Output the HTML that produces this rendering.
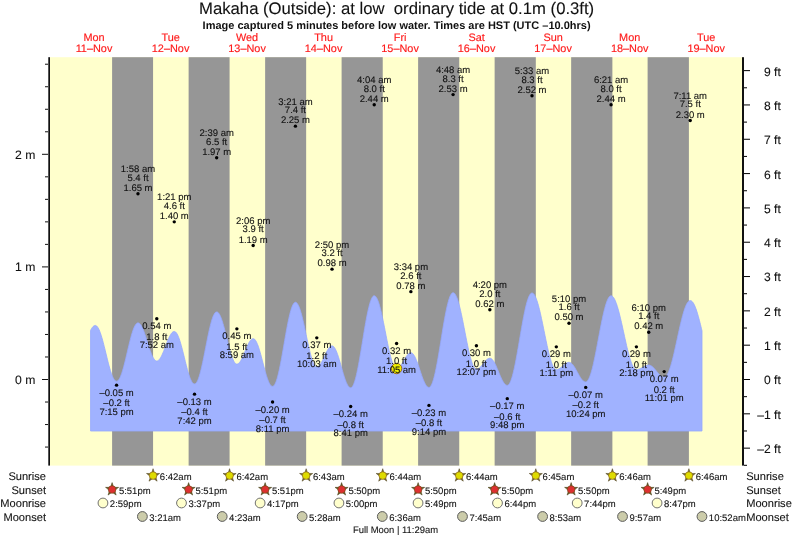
<!DOCTYPE html>
<html><head><meta charset="utf-8"><style>
html,body{margin:0;padding:0;background:#fff;width:793px;height:539px;overflow:hidden}
svg{display:block;will-change:transform;filter:blur(0.35px)}
text{font-family:"Liberation Sans",sans-serif;text-rendering:geometricPrecision;fill:#111;stroke:#111;stroke-width:0.1px}
</style></head><body>
<svg width="793" height="539" viewBox="0 0 793 539">
<rect x="50" y="57.2" width="692" height="408.40000000000003" fill="#ffffcc"/>
<rect x="112.10" y="57.2" width="40.97" height="408.40000000000003" fill="#969696"/>
<rect x="188.62" y="57.2" width="40.97" height="408.40000000000003" fill="#969696"/>
<rect x="265.13" y="57.2" width="41.02" height="408.40000000000003" fill="#969696"/>
<rect x="341.60" y="57.2" width="41.13" height="408.40000000000003" fill="#969696"/>
<rect x="418.11" y="57.2" width="41.13" height="408.40000000000003" fill="#969696"/>
<rect x="494.63" y="57.2" width="41.18" height="408.40000000000003" fill="#969696"/>
<rect x="571.15" y="57.2" width="41.23" height="408.40000000000003" fill="#969696"/>
<rect x="647.61" y="57.2" width="41.29" height="408.40000000000003" fill="#969696"/>
<path d="M90.55,431.00 L90.55,330.36 L91.06,329.41 L91.57,328.54 L92.08,327.77 L92.59,327.11 L93.10,326.55 L93.61,326.10 L94.12,325.77 L94.63,325.55 L95.14,325.45 L95.65,325.48 L96.15,325.67 L96.66,326.01 L97.17,326.51 L97.68,327.16 L98.19,327.96 L98.70,328.90 L99.21,329.98 L99.72,331.19 L100.23,332.53 L100.74,333.99 L101.25,335.55 L101.76,337.22 L102.27,338.97 L102.78,340.81 L103.29,342.72 L103.80,344.69 L104.31,346.71 L104.82,348.77 L105.33,350.85 L105.84,352.94 L106.35,355.04 L106.86,357.13 L107.36,359.20 L107.87,361.23 L108.38,363.22 L108.89,365.15 L109.40,367.02 L109.91,368.81 L110.42,370.51 L110.93,372.11 L111.44,373.61 L111.95,374.99 L112.46,376.25 L112.97,377.38 L113.48,378.37 L113.99,379.22 L114.50,379.93 L115.01,380.48 L115.52,380.88 L116.03,381.13 L116.54,381.22 L117.05,381.14 L117.56,380.91 L118.07,380.51 L118.57,379.95 L119.08,379.24 L119.59,378.38 L120.10,377.37 L120.61,376.22 L121.12,374.93 L121.63,373.51 L122.14,371.98 L122.65,370.33 L123.16,368.59 L123.67,366.74 L124.18,364.82 L124.69,362.83 L125.20,360.77 L125.71,358.67 L126.22,356.53 L126.73,354.36 L127.24,352.19 L127.75,350.01 L128.26,347.84 L128.77,345.70 L129.28,343.59 L129.78,341.53 L130.29,339.52 L130.80,337.59 L131.31,335.74 L131.82,333.98 L132.33,332.32 L132.84,330.77 L133.35,329.34 L133.86,328.03 L134.37,326.86 L134.88,325.83 L135.39,324.95 L135.90,324.22 L136.41,323.64 L136.92,323.22 L137.43,322.97 L137.94,322.87 L138.45,322.93 L138.96,323.12 L139.47,323.46 L139.98,323.92 L140.49,324.52 L140.99,325.24 L141.50,326.08 L142.01,327.04 L142.52,328.10 L143.03,329.27 L143.54,330.52 L144.05,331.86 L144.56,333.27 L145.07,334.74 L145.58,336.27 L146.09,337.84 L146.60,339.43 L147.11,341.05 L147.62,342.67 L148.13,344.28 L148.64,345.88 L149.15,347.45 L149.66,348.98 L150.17,350.46 L150.68,351.87 L151.19,353.22 L151.69,354.48 L152.20,355.65 L152.71,356.72 L153.22,357.69 L153.73,358.54 L154.24,359.27 L154.75,359.88 L155.26,360.35 L155.77,360.69 L156.28,360.90 L156.79,360.97 L157.30,360.90 L157.81,360.72 L158.32,360.41 L158.83,359.99 L159.34,359.44 L159.85,358.79 L160.36,358.03 L160.87,357.18 L161.38,356.23 L161.89,355.20 L162.40,354.09 L162.90,352.91 L163.41,351.68 L163.92,350.41 L164.43,349.10 L164.94,347.76 L165.45,346.41 L165.96,345.06 L166.47,343.72 L166.98,342.40 L167.49,341.11 L168.00,339.87 L168.51,338.68 L169.02,337.55 L169.53,336.49 L170.04,335.52 L170.55,334.63 L171.06,333.84 L171.57,333.16 L172.08,332.58 L172.59,332.12 L173.10,331.78 L173.61,331.56 L174.11,331.46 L174.62,331.49 L175.13,331.69 L175.64,332.05 L176.15,332.57 L176.66,333.24 L177.17,334.07 L177.68,335.05 L178.19,336.17 L178.70,337.42 L179.21,338.80 L179.72,340.30 L180.23,341.90 L180.74,343.61 L181.25,345.40 L181.76,347.27 L182.27,349.21 L182.78,351.20 L183.29,353.23 L183.80,355.28 L184.31,357.36 L184.82,359.43 L185.32,361.49 L185.83,363.53 L186.34,365.54 L186.85,367.49 L187.36,369.39 L187.87,371.21 L188.38,372.94 L188.89,374.59 L189.40,376.12 L189.91,377.54 L190.42,378.84 L190.93,380.00 L191.44,381.03 L191.95,381.91 L192.46,382.64 L192.97,383.21 L193.48,383.62 L193.99,383.87 L194.50,383.96 L195.01,383.87 L195.52,383.60 L196.03,383.14 L196.53,382.49 L197.04,381.67 L197.55,380.67 L198.06,379.50 L198.57,378.16 L199.08,376.66 L199.59,375.02 L200.10,373.23 L200.61,371.32 L201.12,369.28 L201.63,367.13 L202.14,364.87 L202.65,362.53 L203.16,360.12 L203.67,357.64 L204.18,355.11 L204.69,352.54 L205.20,349.95 L205.71,347.35 L206.22,344.75 L206.73,342.17 L207.24,339.61 L207.74,337.10 L208.25,334.65 L208.76,332.27 L209.27,329.97 L209.78,327.76 L210.29,325.65 L210.80,323.67 L211.31,321.81 L211.82,320.08 L212.33,318.50 L212.84,317.08 L213.35,315.81 L213.86,314.72 L214.37,313.79 L214.88,313.05 L215.39,312.48 L215.90,312.11 L216.41,311.91 L216.92,311.91 L217.43,312.07 L217.94,312.39 L218.44,312.87 L218.95,313.52 L219.46,314.31 L219.97,315.25 L220.48,316.34 L220.99,317.56 L221.50,318.91 L222.01,320.38 L222.52,321.96 L223.03,323.65 L223.54,325.42 L224.05,327.27 L224.56,329.19 L225.07,331.16 L225.58,333.17 L226.09,335.22 L226.60,337.28 L227.11,339.35 L227.62,341.41 L228.13,343.44 L228.64,345.45 L229.15,347.40 L229.65,349.30 L230.16,351.12 L230.67,352.87 L231.18,354.52 L231.69,356.06 L232.20,357.49 L232.71,358.80 L233.22,359.98 L233.73,361.02 L234.24,361.91 L234.75,362.66 L235.26,363.25 L235.77,363.68 L236.28,363.95 L236.79,364.05 L237.30,364.01 L237.81,363.85 L238.32,363.56 L238.83,363.16 L239.34,362.64 L239.85,362.02 L240.36,361.29 L240.86,360.47 L241.37,359.56 L241.88,358.57 L242.39,357.51 L242.90,356.39 L243.41,355.23 L243.92,354.02 L244.43,352.79 L244.94,351.55 L245.45,350.31 L245.96,349.07 L246.47,347.86 L246.98,346.68 L247.49,345.55 L248.00,344.47 L248.51,343.46 L249.02,342.52 L249.53,341.67 L250.04,340.91 L250.55,340.25 L251.06,339.70 L251.57,339.27 L252.07,338.94 L252.58,338.74 L253.09,338.66 L253.60,338.72 L254.11,338.93 L254.62,339.31 L255.13,339.84 L255.64,340.53 L256.15,341.37 L256.66,342.36 L257.17,343.48 L257.68,344.73 L258.19,346.10 L258.70,347.58 L259.21,349.16 L259.72,350.84 L260.23,352.60 L260.74,354.42 L261.25,356.29 L261.76,358.21 L262.27,360.16 L262.78,362.13 L263.28,364.10 L263.79,366.05 L264.30,367.99 L264.81,369.88 L265.32,371.73 L265.83,373.51 L266.34,375.22 L266.85,376.84 L267.36,378.36 L267.87,379.78 L268.38,381.08 L268.89,382.25 L269.40,383.28 L269.91,384.18 L270.42,384.93 L270.93,385.52 L271.44,385.96 L271.95,386.24 L272.46,386.36 L272.97,386.30 L273.48,386.04 L273.99,385.57 L274.49,384.90 L275.00,384.03 L275.51,382.97 L276.02,381.72 L276.53,380.28 L277.04,378.67 L277.55,376.89 L278.06,374.94 L278.57,372.85 L279.08,370.62 L279.59,368.26 L280.10,365.78 L280.61,363.20 L281.12,360.52 L281.63,357.77 L282.14,354.95 L282.65,352.07 L283.16,349.16 L283.67,346.23 L284.18,343.28 L284.69,340.34 L285.19,337.42 L285.70,334.54 L286.21,331.70 L286.72,328.92 L287.23,326.22 L287.74,323.61 L288.25,321.10 L288.76,318.70 L289.27,316.43 L289.78,314.30 L290.29,312.31 L290.80,310.48 L291.31,308.82 L291.82,307.33 L292.33,306.02 L292.84,304.90 L293.35,303.98 L293.86,303.25 L294.37,302.72 L294.88,302.40 L295.39,302.28 L295.90,302.36 L296.40,302.62 L296.91,303.05 L297.42,303.67 L297.93,304.46 L298.44,305.41 L298.95,306.53 L299.46,307.81 L299.97,309.24 L300.48,310.81 L300.99,312.51 L301.50,314.34 L302.01,316.28 L302.52,318.32 L303.03,320.45 L303.54,322.67 L304.05,324.94 L304.56,327.28 L305.07,329.65 L305.58,332.05 L306.09,334.47 L306.60,336.88 L307.11,339.29 L307.61,341.66 L308.12,344.00 L308.63,346.28 L309.14,348.50 L309.65,350.64 L310.16,352.68 L310.67,354.63 L311.18,356.46 L311.69,358.17 L312.20,359.75 L312.71,361.19 L313.22,362.47 L313.73,363.60 L314.24,364.57 L314.75,365.37 L315.26,365.99 L315.77,366.44 L316.28,366.71 L316.79,366.80 L317.30,366.74 L317.81,366.57 L318.32,366.28 L318.82,365.89 L319.33,365.39 L319.84,364.79 L320.35,364.09 L320.86,363.31 L321.37,362.46 L321.88,361.54 L322.39,360.56 L322.90,359.53 L323.41,358.47 L323.92,357.38 L324.43,356.28 L324.94,355.19 L325.45,354.10 L325.96,353.04 L326.47,352.02 L326.98,351.04 L327.49,350.13 L328.00,349.28 L328.51,348.51 L329.02,347.82 L329.53,347.23 L330.03,346.74 L330.54,346.35 L331.05,346.08 L331.56,345.91 L332.07,345.87 L332.58,345.96 L333.09,346.20 L333.60,346.59 L334.11,347.14 L334.62,347.83 L335.13,348.65 L335.64,349.62 L336.15,350.70 L336.66,351.91 L337.17,353.23 L337.68,354.64 L338.19,356.15 L338.70,357.73 L339.21,359.38 L339.72,361.09 L340.23,362.84 L340.73,364.61 L341.24,366.41 L341.75,368.20 L342.26,369.99 L342.77,371.75 L343.28,373.48 L343.79,375.15 L344.30,376.77 L344.81,378.31 L345.32,379.77 L345.83,381.13 L346.34,382.38 L346.85,383.52 L347.36,384.54 L347.87,385.43 L348.38,386.18 L348.89,386.79 L349.40,387.25 L349.91,387.56 L350.42,387.72 L350.93,387.71 L351.44,387.50 L351.94,387.09 L352.45,386.46 L352.96,385.62 L353.47,384.58 L353.98,383.35 L354.49,381.92 L355.00,380.30 L355.51,378.51 L356.02,376.55 L356.53,374.43 L357.04,372.15 L357.55,369.74 L358.06,367.19 L358.57,364.53 L359.08,361.76 L359.59,358.90 L360.10,355.97 L360.61,352.96 L361.12,349.90 L361.63,346.81 L362.14,343.69 L362.65,340.57 L363.15,337.45 L363.66,334.34 L364.17,331.28 L364.68,328.26 L365.19,325.30 L365.70,322.42 L366.21,319.63 L366.72,316.94 L367.23,314.37 L367.74,311.92 L368.25,309.61 L368.76,307.45 L369.27,305.45 L369.78,303.61 L370.29,301.96 L370.80,300.48 L371.31,299.20 L371.82,298.11 L372.33,297.22 L372.84,296.54 L373.35,296.07 L373.86,295.81 L374.36,295.77 L374.87,295.91 L375.38,296.24 L375.89,296.75 L376.40,297.45 L376.91,298.32 L377.42,299.37 L377.93,300.58 L378.44,301.96 L378.95,303.49 L379.46,305.16 L379.97,306.98 L380.48,308.92 L380.99,310.98 L381.50,313.15 L382.01,315.42 L382.52,317.77 L383.03,320.20 L383.54,322.69 L384.05,325.22 L384.56,327.79 L385.07,330.39 L385.57,332.99 L386.08,335.59 L386.59,338.17 L387.10,340.72 L387.61,343.22 L388.12,345.67 L388.63,348.05 L389.14,350.35 L389.65,352.56 L390.16,354.66 L390.67,356.64 L391.18,358.50 L391.69,360.23 L392.20,361.81 L392.71,363.24 L393.22,364.51 L393.73,365.61 L394.24,366.55 L394.75,367.30 L395.26,367.88 L395.77,368.27 L396.27,368.48 L396.78,368.51 L397.29,368.42 L397.80,368.24 L398.31,367.96 L398.82,367.59 L399.33,367.13 L399.84,366.59 L400.35,365.97 L400.86,365.29 L401.37,364.55 L401.88,363.76 L402.39,362.93 L402.90,362.07 L403.41,361.20 L403.92,360.31 L404.43,359.44 L404.94,358.57 L405.45,357.73 L405.96,356.93 L406.47,356.17 L406.98,355.47 L407.48,354.84 L407.99,354.27 L408.50,353.79 L409.01,353.39 L409.52,353.08 L410.03,352.87 L410.54,352.75 L411.05,352.74 L411.56,352.85 L412.07,353.10 L412.58,353.48 L413.09,353.99 L413.60,354.62 L414.11,355.38 L414.62,356.25 L415.13,357.23 L415.64,358.31 L416.15,359.49 L416.66,360.74 L417.17,362.07 L417.68,363.47 L418.19,364.91 L418.69,366.40 L419.20,367.91 L419.71,369.44 L420.22,370.98 L420.73,372.50 L421.24,374.01 L421.75,375.49 L422.26,376.93 L422.77,378.31 L423.28,379.62 L423.79,380.87 L424.30,382.02 L424.81,383.09 L425.32,384.05 L425.83,384.90 L426.34,385.63 L426.85,386.25 L427.36,386.73 L427.87,387.09 L428.38,387.31 L428.89,387.39 L429.40,387.31 L429.90,387.03 L430.41,386.54 L430.92,385.84 L431.43,384.94 L431.94,383.85 L432.45,382.56 L432.96,381.08 L433.47,379.43 L433.98,377.60 L434.49,375.60 L435.00,373.45 L435.51,371.15 L436.02,368.71 L436.53,366.15 L437.04,363.48 L437.55,360.69 L438.06,357.82 L438.57,354.87 L439.08,351.86 L439.59,348.79 L440.10,345.69 L440.61,342.56 L441.11,339.42 L441.62,336.28 L442.13,333.15 L442.64,330.06 L443.15,327.01 L443.66,324.02 L444.17,321.10 L444.68,318.27 L445.19,315.53 L445.70,312.89 L446.21,310.38 L446.72,307.99 L447.23,305.75 L447.74,303.66 L448.25,301.73 L448.76,299.97 L449.27,298.38 L449.78,296.98 L450.29,295.76 L450.80,294.74 L451.31,293.92 L451.82,293.31 L452.32,292.90 L452.83,292.69 L453.34,292.69 L453.85,292.88 L454.36,293.24 L454.87,293.78 L455.38,294.50 L455.89,295.38 L456.40,296.44 L456.91,297.66 L457.42,299.03 L457.93,300.55 L458.44,302.22 L458.95,304.02 L459.46,305.95 L459.97,308.00 L460.48,310.15 L460.99,312.40 L461.50,314.74 L462.01,317.16 L462.52,319.64 L463.02,322.17 L463.53,324.74 L464.04,327.35 L464.55,329.97 L465.06,332.59 L465.57,335.21 L466.08,337.81 L466.59,340.37 L467.10,342.89 L467.61,345.36 L468.12,347.76 L468.63,350.07 L469.14,352.30 L469.65,354.43 L470.16,356.44 L470.67,358.34 L471.18,360.11 L471.69,361.74 L472.20,363.22 L472.71,364.55 L473.22,365.73 L473.73,366.74 L474.23,367.58 L474.74,368.25 L475.25,368.74 L475.76,369.06 L476.27,369.20 L476.78,369.18 L477.29,369.09 L477.80,368.91 L478.31,368.67 L478.82,368.35 L479.33,367.97 L479.84,367.53 L480.35,367.03 L480.86,366.49 L481.37,365.91 L481.88,365.29 L482.39,364.66 L482.90,364.01 L483.41,363.35 L483.92,362.70 L484.43,362.07 L484.94,361.46 L485.44,360.88 L485.95,360.34 L486.46,359.85 L486.97,359.41 L487.48,359.04 L487.99,358.73 L488.50,358.49 L489.01,358.33 L489.52,358.24 L490.03,358.23 L490.54,358.33 L491.05,358.54 L491.56,358.86 L492.07,359.29 L492.58,359.83 L493.09,360.47 L493.60,361.20 L494.11,362.03 L494.62,362.93 L495.13,363.91 L495.64,364.95 L496.15,366.06 L496.65,367.21 L497.16,368.40 L497.67,369.62 L498.18,370.85 L498.69,372.10 L499.20,373.34 L499.71,374.57 L500.22,375.77 L500.73,376.94 L501.24,378.07 L501.75,379.15 L502.26,380.16 L502.77,381.10 L503.28,381.96 L503.79,382.74 L504.30,383.43 L504.81,384.01 L505.32,384.50 L505.83,384.87 L506.34,385.14 L506.85,385.29 L507.36,385.33 L507.86,385.21 L508.37,384.89 L508.88,384.37 L509.39,383.67 L509.90,382.79 L510.41,381.71 L510.92,380.46 L511.43,379.04 L511.94,377.45 L512.45,375.70 L512.96,373.80 L513.47,371.75 L513.98,369.56 L514.49,367.25 L515.00,364.82 L515.51,362.28 L516.02,359.64 L516.53,356.92 L517.04,354.13 L517.55,351.27 L518.06,348.36 L518.57,345.41 L519.07,342.44 L519.58,339.45 L520.09,336.46 L520.60,333.48 L521.11,330.53 L521.62,327.61 L522.13,324.74 L522.64,321.93 L523.15,319.20 L523.66,316.55 L524.17,313.99 L524.68,311.54 L525.19,309.20 L525.70,306.99 L526.21,304.92 L526.72,302.98 L527.23,301.21 L527.74,299.59 L528.25,298.13 L528.76,296.85 L529.27,295.75 L529.77,294.82 L530.28,294.09 L530.79,293.54 L531.30,293.19 L531.81,293.02 L532.32,293.05 L532.83,293.24 L533.34,293.60 L533.85,294.12 L534.36,294.80 L534.87,295.64 L535.38,296.63 L535.89,297.77 L536.40,299.06 L536.91,300.48 L537.42,302.04 L537.93,303.73 L538.44,305.54 L538.95,307.45 L539.46,309.47 L539.97,311.59 L540.48,313.79 L540.98,316.06 L541.49,318.40 L542.00,320.80 L542.51,323.24 L543.02,325.72 L543.53,328.22 L544.04,330.73 L544.55,333.25 L545.06,335.76 L545.57,338.24 L546.08,340.70 L546.59,343.12 L547.10,345.49 L547.61,347.79 L548.12,350.02 L548.63,352.18 L549.14,354.24 L549.65,356.20 L550.16,358.06 L550.67,359.80 L551.18,361.41 L551.69,362.90 L552.19,364.25 L552.70,365.45 L553.21,366.51 L553.72,367.42 L554.23,368.17 L554.74,368.76 L555.25,369.18 L555.76,369.45 L556.27,369.55 L556.78,369.52 L557.29,369.44 L557.80,369.31 L558.31,369.12 L558.82,368.88 L559.33,368.60 L559.84,368.27 L560.35,367.90 L560.86,367.51 L561.37,367.09 L561.88,366.65 L562.39,366.20 L562.90,365.74 L563.40,365.29 L563.91,364.85 L564.42,364.43 L564.93,364.03 L565.44,363.66 L565.95,363.33 L566.46,363.04 L566.97,362.79 L567.48,362.60 L567.99,362.46 L568.50,362.37 L569.01,362.34 L569.52,362.38 L570.03,362.51 L570.54,362.74 L571.05,363.04 L571.56,363.43 L572.07,363.90 L572.58,364.45 L573.09,365.07 L573.60,365.75 L574.11,366.49 L574.61,367.28 L575.12,368.12 L575.63,368.99 L576.14,369.89 L576.65,370.81 L577.16,371.75 L577.67,372.69 L578.18,373.62 L578.69,374.54 L579.20,375.44 L579.71,376.30 L580.22,377.13 L580.73,377.91 L581.24,378.64 L581.75,379.31 L582.26,379.91 L582.77,380.44 L583.28,380.90 L583.79,381.27 L584.30,381.56 L584.81,381.76 L585.31,381.88 L585.82,381.90 L586.33,381.77 L586.84,381.48 L587.35,381.01 L587.86,380.37 L588.37,379.57 L588.88,378.61 L589.39,377.49 L589.90,376.21 L590.41,374.79 L590.92,373.22 L591.43,371.51 L591.94,369.68 L592.45,367.72 L592.96,365.64 L593.47,363.46 L593.98,361.18 L594.49,358.82 L595.00,356.37 L595.51,353.85 L596.02,351.27 L596.52,348.64 L597.03,345.98 L597.54,343.28 L598.05,340.57 L598.56,337.85 L599.07,335.14 L599.58,332.43 L600.09,329.76 L600.60,327.12 L601.11,324.53 L601.62,321.99 L602.13,319.52 L602.64,317.13 L603.15,314.83 L603.66,312.62 L604.17,310.51 L604.68,308.52 L605.19,306.65 L605.70,304.91 L606.21,303.30 L606.72,301.83 L607.23,300.51 L607.73,299.35 L608.24,298.34 L608.75,297.49 L609.26,296.81 L609.77,296.30 L610.28,295.95 L610.79,295.78 L611.30,295.78 L611.81,295.92 L612.32,296.21 L612.83,296.65 L613.34,297.23 L613.85,297.95 L614.36,298.81 L614.87,299.81 L615.38,300.93 L615.89,302.19 L616.40,303.56 L616.91,305.05 L617.42,306.65 L617.93,308.36 L618.44,310.16 L618.94,312.05 L619.45,314.02 L619.96,316.07 L620.47,318.18 L620.98,320.35 L621.49,322.57 L622.00,324.83 L622.51,327.12 L623.02,329.43 L623.53,331.76 L624.04,334.09 L624.55,336.41 L625.06,338.72 L625.57,341.01 L626.08,343.26 L626.59,345.47 L627.10,347.63 L627.61,349.72 L628.12,351.75 L628.63,353.71 L629.14,355.58 L629.65,357.36 L630.15,359.04 L630.66,360.61 L631.17,362.08 L631.68,363.42 L632.19,364.65 L632.70,365.74 L633.21,366.71 L633.72,367.53 L634.23,368.22 L634.74,368.77 L635.25,369.17 L635.76,369.43 L636.27,369.54 L636.78,369.54 L637.29,369.49 L637.80,369.41 L638.31,369.29 L638.82,369.14 L639.33,368.95 L639.84,368.74 L640.35,368.51 L640.86,368.26 L641.36,367.99 L641.87,367.71 L642.38,367.42 L642.89,367.13 L643.40,366.84 L643.91,366.56 L644.42,366.30 L644.93,366.05 L645.44,365.82 L645.95,365.62 L646.46,365.45 L646.97,365.31 L647.48,365.20 L647.99,365.12 L648.50,365.09 L649.01,365.10 L649.52,365.16 L650.03,365.29 L650.54,365.49 L651.05,365.74 L651.56,366.05 L652.06,366.41 L652.57,366.83 L653.08,367.29 L653.59,367.79 L654.10,368.33 L654.61,368.89 L655.12,369.48 L655.63,370.09 L656.14,370.70 L656.65,371.33 L657.16,371.94 L657.67,372.55 L658.18,373.15 L658.69,373.72 L659.20,374.26 L659.71,374.77 L660.22,375.24 L660.73,375.67 L661.24,376.05 L661.75,376.37 L662.26,376.64 L662.77,376.85 L663.27,376.99 L663.78,377.08 L664.29,377.09 L664.80,376.99 L665.31,376.75 L665.82,376.36 L666.33,375.83 L666.84,375.16 L667.35,374.35 L667.86,373.41 L668.37,372.33 L668.88,371.13 L669.39,369.81 L669.90,368.37 L670.41,366.82 L670.92,365.17 L671.43,363.41 L671.94,361.56 L672.45,359.63 L672.96,357.61 L673.47,355.53 L673.98,353.38 L674.48,351.18 L674.99,348.93 L675.50,346.64 L676.01,344.33 L676.52,341.99 L677.03,339.64 L677.54,337.29 L678.05,334.94 L678.56,332.61 L679.07,330.30 L679.58,328.02 L680.09,325.79 L680.60,323.60 L681.11,321.47 L681.62,319.41 L682.13,317.42 L682.64,315.51 L683.15,313.69 L683.66,311.97 L684.17,310.34 L684.68,308.83 L685.19,307.42 L685.69,306.14 L686.20,304.98 L686.71,303.95 L687.22,303.05 L687.73,302.28 L688.24,301.65 L688.75,301.17 L689.26,300.82 L689.77,300.62 L690.28,300.56 L690.79,300.65 L691.30,300.86 L691.81,301.22 L692.32,301.70 L692.83,302.32 L693.34,303.06 L693.85,303.93 L694.36,304.93 L694.87,306.04 L695.38,307.26 L695.89,308.60 L696.40,310.03 L696.90,311.57 L697.41,313.20 L697.92,314.91 L698.43,316.71 L698.94,318.57 L699.45,320.50 L699.96,322.49 L700.47,324.52 L700.98,326.60 L701.49,328.71 L702.00,330.84 L702.00,431.00 Z" fill="#a0b2ff" stroke="#96a8ff" stroke-width="0.8"/>
<rect x="48" y="57.2" width="1" height="408.40000000000003" fill="#555"/>
<rect x="49" y="57.2" width="1" height="408.40000000000003" fill="#111"/>
<rect x="742" y="57.2" width="2" height="408.40000000000003" fill="#111"/>
<rect x="45.0" y="446.56" width="3.0" height="1" fill="#111"/>
<rect x="45.0" y="424.04" width="3.0" height="1" fill="#111"/>
<rect x="45.0" y="401.52" width="3.0" height="1" fill="#111"/>
<rect x="42.0" y="379.00" width="6.0" height="1" fill="#111"/>
<rect x="45.0" y="356.48" width="3.0" height="1" fill="#111"/>
<rect x="45.0" y="333.96" width="3.0" height="1" fill="#111"/>
<rect x="45.0" y="311.44" width="3.0" height="1" fill="#111"/>
<rect x="45.0" y="288.92" width="3.0" height="1" fill="#111"/>
<rect x="42.0" y="266.40" width="6.0" height="1" fill="#111"/>
<rect x="45.0" y="243.88" width="3.0" height="1" fill="#111"/>
<rect x="45.0" y="221.36" width="3.0" height="1" fill="#111"/>
<rect x="45.0" y="198.84" width="3.0" height="1" fill="#111"/>
<rect x="45.0" y="176.32" width="3.0" height="1" fill="#111"/>
<rect x="42.0" y="153.80" width="6.0" height="1" fill="#111"/>
<rect x="45.0" y="131.28" width="3.0" height="1" fill="#111"/>
<rect x="45.0" y="108.76" width="3.0" height="1" fill="#111"/>
<rect x="45.0" y="86.24" width="3.0" height="1" fill="#111"/>
<rect x="45.0" y="63.72" width="3.0" height="1" fill="#111"/>
<rect x="744" y="464.80" width="3" height="1" fill="#000"/>
<rect x="744" y="447.64" width="6" height="1" fill="#000"/>
<rect x="744" y="430.48" width="3" height="1" fill="#000"/>
<rect x="744" y="413.32" width="6" height="1" fill="#000"/>
<rect x="744" y="396.16" width="3" height="1" fill="#000"/>
<rect x="744" y="379.00" width="6" height="1" fill="#000"/>
<rect x="744" y="361.84" width="3" height="1" fill="#000"/>
<rect x="744" y="344.68" width="6" height="1" fill="#000"/>
<rect x="744" y="327.52" width="3" height="1" fill="#000"/>
<rect x="744" y="310.36" width="6" height="1" fill="#000"/>
<rect x="744" y="293.20" width="3" height="1" fill="#000"/>
<rect x="744" y="276.04" width="6" height="1" fill="#000"/>
<rect x="744" y="258.88" width="3" height="1" fill="#000"/>
<rect x="744" y="241.72" width="6" height="1" fill="#000"/>
<rect x="744" y="224.56" width="3" height="1" fill="#000"/>
<rect x="744" y="207.40" width="6" height="1" fill="#000"/>
<rect x="744" y="190.24" width="3" height="1" fill="#000"/>
<rect x="744" y="173.08" width="6" height="1" fill="#000"/>
<rect x="744" y="155.92" width="3" height="1" fill="#000"/>
<rect x="744" y="138.76" width="6" height="1" fill="#000"/>
<rect x="744" y="121.60" width="3" height="1" fill="#000"/>
<rect x="744" y="104.44" width="6" height="1" fill="#000"/>
<rect x="744" y="87.28" width="3" height="1" fill="#000"/>
<rect x="744" y="70.12" width="6" height="1" fill="#000"/>
<circle cx="396.59" cy="368.52" r="5.2" fill="#f0f000" stroke="#8a4a10" stroke-width="0.8"/>
<circle cx="116.56" cy="385.13" r="1.7" fill="#000"/>
<circle cx="137.98" cy="193.71" r="1.7" fill="#000"/>
<circle cx="156.79" cy="318.70" r="1.7" fill="#000"/>
<circle cx="174.27" cy="221.86" r="1.7" fill="#000"/>
<circle cx="194.51" cy="394.14" r="1.7" fill="#000"/>
<circle cx="216.67" cy="157.68" r="1.7" fill="#000"/>
<circle cx="236.86" cy="328.83" r="1.7" fill="#000"/>
<circle cx="253.18" cy="245.51" r="1.7" fill="#000"/>
<circle cx="272.57" cy="402.02" r="1.7" fill="#000"/>
<circle cx="295.42" cy="126.15" r="1.7" fill="#000"/>
<circle cx="316.78" cy="337.84" r="1.7" fill="#000"/>
<circle cx="332.03" cy="269.15" r="1.7" fill="#000"/>
<circle cx="350.68" cy="406.52" r="1.7" fill="#000"/>
<circle cx="374.22" cy="104.76" r="1.7" fill="#000"/>
<circle cx="396.59" cy="343.47" r="1.7" fill="#000"/>
<circle cx="410.89" cy="291.67" r="1.7" fill="#000"/>
<circle cx="428.95" cy="405.40" r="1.7" fill="#000"/>
<circle cx="453.08" cy="94.62" r="1.7" fill="#000"/>
<circle cx="476.41" cy="345.72" r="1.7" fill="#000"/>
<circle cx="489.85" cy="309.69" r="1.7" fill="#000"/>
<circle cx="507.28" cy="398.64" r="1.7" fill="#000"/>
<circle cx="531.99" cy="95.75" r="1.7" fill="#000"/>
<circle cx="556.32" cy="346.85" r="1.7" fill="#000"/>
<circle cx="569.02" cy="323.20" r="1.7" fill="#000"/>
<circle cx="585.71" cy="387.38" r="1.7" fill="#000"/>
<circle cx="611.05" cy="104.76" r="1.7" fill="#000"/>
<circle cx="636.40" cy="346.85" r="1.7" fill="#000"/>
<circle cx="648.73" cy="332.21" r="1.7" fill="#000"/>
<circle cx="664.19" cy="371.62" r="1.7" fill="#000"/>
<circle cx="690.23" cy="120.52" r="1.7" fill="#000"/>
<polygon points="153.07,468.70 154.63,473.46 159.63,473.47 155.59,476.42 157.12,481.18 153.07,478.25 149.01,481.18 150.55,476.42 146.51,473.47 151.51,473.46" fill="#767034" stroke="#4a3a14" stroke-width="0.5"/><circle cx="153.07" cy="475.60" r="3.8" fill="#dedb00" stroke="#8a6020" stroke-width="0.7"/>
<polygon points="229.58,468.70 231.14,473.46 236.15,473.47 232.10,476.42 233.64,481.18 229.58,478.25 225.53,481.18 227.06,476.42 223.02,473.47 228.03,473.46" fill="#767034" stroke="#4a3a14" stroke-width="0.5"/><circle cx="229.58" cy="475.60" r="3.8" fill="#dedb00" stroke="#8a6020" stroke-width="0.7"/>
<polygon points="306.15,468.70 307.71,473.46 312.72,473.47 308.67,476.42 310.21,481.18 306.15,478.25 302.10,481.18 303.63,476.42 299.59,473.47 304.60,473.46" fill="#767034" stroke="#4a3a14" stroke-width="0.5"/><circle cx="306.15" cy="475.60" r="3.8" fill="#dedb00" stroke="#8a6020" stroke-width="0.7"/>
<polygon points="382.72,468.70 384.28,473.46 389.29,473.47 385.24,476.42 386.78,481.18 382.72,478.25 378.67,481.18 380.20,476.42 376.16,473.47 381.17,473.46" fill="#767034" stroke="#4a3a14" stroke-width="0.5"/><circle cx="382.72" cy="475.60" r="3.8" fill="#dedb00" stroke="#8a6020" stroke-width="0.7"/>
<polygon points="459.24,468.70 460.80,473.46 465.80,473.47 461.76,476.42 463.30,481.18 459.24,478.25 455.19,481.18 456.72,476.42 452.68,473.47 457.68,473.46" fill="#767034" stroke="#4a3a14" stroke-width="0.5"/><circle cx="459.24" cy="475.60" r="3.8" fill="#dedb00" stroke="#8a6020" stroke-width="0.7"/>
<polygon points="535.81,468.70 537.37,473.46 542.37,473.47 538.33,476.42 539.87,481.18 535.81,478.25 531.76,481.18 533.29,476.42 529.25,473.47 534.25,473.46" fill="#767034" stroke="#4a3a14" stroke-width="0.5"/><circle cx="535.81" cy="475.60" r="3.8" fill="#dedb00" stroke="#8a6020" stroke-width="0.7"/>
<polygon points="612.38,468.70 613.94,473.46 618.94,473.47 614.90,476.42 616.44,481.18 612.38,478.25 608.33,481.18 609.86,476.42 605.82,473.47 610.82,473.46" fill="#767034" stroke="#4a3a14" stroke-width="0.5"/><circle cx="612.38" cy="475.60" r="3.8" fill="#dedb00" stroke="#8a6020" stroke-width="0.7"/>
<polygon points="688.90,468.70 690.46,473.46 695.46,473.47 691.42,476.42 692.95,481.18 688.90,478.25 684.84,481.18 686.38,476.42 682.34,473.47 687.34,473.46" fill="#767034" stroke="#4a3a14" stroke-width="0.5"/><circle cx="688.90" cy="475.60" r="3.8" fill="#dedb00" stroke="#8a6020" stroke-width="0.7"/>
<polygon points="112.10,482.60 113.66,487.36 118.66,487.37 114.62,490.32 116.16,495.08 112.10,492.15 108.04,495.08 109.58,490.32 105.54,487.37 110.54,487.36" fill="#6a6428" stroke="#403410" stroke-width="0.5"/><circle cx="112.10" cy="489.50" r="3.8" fill="#dd3030" stroke="#7a4a18" stroke-width="0.7"/>
<polygon points="188.62,482.60 190.17,487.36 195.18,487.37 191.14,490.32 192.67,495.08 188.62,492.15 184.56,495.08 186.10,490.32 182.05,487.37 187.06,487.36" fill="#6a6428" stroke="#403410" stroke-width="0.5"/><circle cx="188.62" cy="489.50" r="3.8" fill="#dd3030" stroke="#7a4a18" stroke-width="0.7"/>
<polygon points="265.13,482.60 266.69,487.36 271.70,487.37 267.65,490.32 269.19,495.08 265.13,492.15 261.08,495.08 262.61,490.32 258.57,487.37 263.58,487.36" fill="#6a6428" stroke="#403410" stroke-width="0.5"/><circle cx="265.13" cy="489.50" r="3.8" fill="#dd3030" stroke="#7a4a18" stroke-width="0.7"/>
<polygon points="341.60,482.60 343.15,487.36 348.16,487.37 344.12,490.32 345.65,495.08 341.60,492.15 337.54,495.08 339.08,490.32 335.03,487.37 340.04,487.36" fill="#6a6428" stroke="#403410" stroke-width="0.5"/><circle cx="341.60" cy="489.50" r="3.8" fill="#dd3030" stroke="#7a4a18" stroke-width="0.7"/>
<polygon points="418.11,482.60 419.67,487.36 424.68,487.37 420.63,490.32 422.17,495.08 418.11,492.15 414.06,495.08 415.59,490.32 411.55,487.37 416.56,487.36" fill="#6a6428" stroke="#403410" stroke-width="0.5"/><circle cx="418.11" cy="489.50" r="3.8" fill="#dd3030" stroke="#7a4a18" stroke-width="0.7"/>
<polygon points="494.63,482.60 496.19,487.36 501.19,487.37 497.15,490.32 498.69,495.08 494.63,492.15 490.57,495.08 492.11,490.32 488.07,487.37 493.07,487.36" fill="#6a6428" stroke="#403410" stroke-width="0.5"/><circle cx="494.63" cy="489.50" r="3.8" fill="#dd3030" stroke="#7a4a18" stroke-width="0.7"/>
<polygon points="571.15,482.60 572.70,487.36 577.71,487.37 573.67,490.32 575.20,495.08 571.15,492.15 567.09,495.08 568.63,490.32 564.58,487.37 569.59,487.36" fill="#6a6428" stroke="#403410" stroke-width="0.5"/><circle cx="571.15" cy="489.50" r="3.8" fill="#dd3030" stroke="#7a4a18" stroke-width="0.7"/>
<polygon points="647.61,482.60 649.17,487.36 654.17,487.37 650.13,490.32 651.67,495.08 647.61,492.15 643.55,495.08 645.09,490.32 641.05,487.37 646.05,487.36" fill="#6a6428" stroke="#403410" stroke-width="0.5"/><circle cx="647.61" cy="489.50" r="3.8" fill="#dd3030" stroke="#7a4a18" stroke-width="0.7"/>
<circle cx="102.96" cy="503.00" r="4.9" fill="#ffffcc" stroke="#707070" stroke-width="1"/>
<circle cx="181.50" cy="503.00" r="4.9" fill="#ffffcc" stroke="#707070" stroke-width="1"/>
<circle cx="260.14" cy="503.00" r="4.9" fill="#ffffcc" stroke="#707070" stroke-width="1"/>
<circle cx="338.94" cy="503.00" r="4.9" fill="#ffffcc" stroke="#707070" stroke-width="1"/>
<circle cx="418.06" cy="503.00" r="4.9" fill="#ffffcc" stroke="#707070" stroke-width="1"/>
<circle cx="497.50" cy="503.00" r="4.9" fill="#ffffcc" stroke="#707070" stroke-width="1"/>
<circle cx="577.20" cy="503.00" r="4.9" fill="#ffffcc" stroke="#707070" stroke-width="1"/>
<circle cx="657.07" cy="503.00" r="4.9" fill="#ffffcc" stroke="#707070" stroke-width="1"/>
<circle cx="142.39" cy="516.50" r="4.9" fill="#ccccaa" stroke="#5a5a5a" stroke-width="1"/>
<circle cx="222.20" cy="516.50" r="4.9" fill="#ccccaa" stroke="#5a5a5a" stroke-width="1"/>
<circle cx="302.17" cy="516.50" r="4.9" fill="#ccccaa" stroke="#5a5a5a" stroke-width="1"/>
<circle cx="382.30" cy="516.50" r="4.9" fill="#ccccaa" stroke="#5a5a5a" stroke-width="1"/>
<circle cx="462.48" cy="516.50" r="4.9" fill="#ccccaa" stroke="#5a5a5a" stroke-width="1"/>
<circle cx="542.61" cy="516.50" r="4.9" fill="#ccccaa" stroke="#5a5a5a" stroke-width="1"/>
<circle cx="622.53" cy="516.50" r="4.9" fill="#ccccaa" stroke="#5a5a5a" stroke-width="1"/>
<circle cx="701.97" cy="516.50" r="4.9" fill="#ccccaa" stroke="#5a5a5a" stroke-width="1"/>
<text x="35.3" y="383.8" font-size="12.2" text-anchor="end">0 m</text>
<text x="35.3" y="271.2" font-size="12.2" text-anchor="end">1 m</text>
<text x="35.3" y="158.6" font-size="12.2" text-anchor="end">2 m</text>
<text x="780.8" y="453.0" font-size="12.1" text-anchor="end">–2 ft</text>
<text x="780.8" y="418.7" font-size="12.1" text-anchor="end">–1 ft</text>
<text x="780.8" y="384.4" font-size="12.1" text-anchor="end">0 ft</text>
<text x="780.8" y="350.1" font-size="12.1" text-anchor="end">1 ft</text>
<text x="780.8" y="315.8" font-size="12.1" text-anchor="end">2 ft</text>
<text x="780.8" y="281.4" font-size="12.1" text-anchor="end">3 ft</text>
<text x="780.8" y="247.1" font-size="12.1" text-anchor="end">4 ft</text>
<text x="780.8" y="212.8" font-size="12.1" text-anchor="end">5 ft</text>
<text x="780.8" y="178.5" font-size="12.1" text-anchor="end">6 ft</text>
<text x="780.8" y="144.2" font-size="12.1" text-anchor="end">7 ft</text>
<text x="780.8" y="109.8" font-size="12.1" text-anchor="end">8 ft</text>
<text x="780.8" y="75.5" font-size="12.1" text-anchor="end">9 ft</text>
<text x="94.0" y="41.1" font-size="10.9" style="fill:#ff1a1a;stroke:#ff1a1a;stroke-width:0.15px" text-anchor="middle">Mon</text>
<text x="94.0" y="52.4" font-size="10.9" style="fill:#ff1a1a;stroke:#ff1a1a;stroke-width:0.15px" text-anchor="middle">11&#8211;Nov</text>
<text x="170.6" y="41.1" font-size="10.9" style="fill:#ff1a1a;stroke:#ff1a1a;stroke-width:0.15px" text-anchor="middle">Tue</text>
<text x="170.6" y="52.4" font-size="10.9" style="fill:#ff1a1a;stroke:#ff1a1a;stroke-width:0.15px" text-anchor="middle">12&#8211;Nov</text>
<text x="247.1" y="41.1" font-size="10.9" style="fill:#ff1a1a;stroke:#ff1a1a;stroke-width:0.15px" text-anchor="middle">Wed</text>
<text x="247.1" y="52.4" font-size="10.9" style="fill:#ff1a1a;stroke:#ff1a1a;stroke-width:0.15px" text-anchor="middle">13&#8211;Nov</text>
<text x="323.6" y="41.1" font-size="10.9" style="fill:#ff1a1a;stroke:#ff1a1a;stroke-width:0.15px" text-anchor="middle">Thu</text>
<text x="323.6" y="52.4" font-size="10.9" style="fill:#ff1a1a;stroke:#ff1a1a;stroke-width:0.15px" text-anchor="middle">14&#8211;Nov</text>
<text x="400.1" y="41.1" font-size="10.9" style="fill:#ff1a1a;stroke:#ff1a1a;stroke-width:0.15px" text-anchor="middle">Fri</text>
<text x="400.1" y="52.4" font-size="10.9" style="fill:#ff1a1a;stroke:#ff1a1a;stroke-width:0.15px" text-anchor="middle">15&#8211;Nov</text>
<text x="476.6" y="41.1" font-size="10.9" style="fill:#ff1a1a;stroke:#ff1a1a;stroke-width:0.15px" text-anchor="middle">Sat</text>
<text x="476.6" y="52.4" font-size="10.9" style="fill:#ff1a1a;stroke:#ff1a1a;stroke-width:0.15px" text-anchor="middle">16&#8211;Nov</text>
<text x="553.1" y="41.1" font-size="10.9" style="fill:#ff1a1a;stroke:#ff1a1a;stroke-width:0.15px" text-anchor="middle">Sun</text>
<text x="553.1" y="52.4" font-size="10.9" style="fill:#ff1a1a;stroke:#ff1a1a;stroke-width:0.15px" text-anchor="middle">17&#8211;Nov</text>
<text x="629.7" y="41.1" font-size="10.9" style="fill:#ff1a1a;stroke:#ff1a1a;stroke-width:0.15px" text-anchor="middle">Mon</text>
<text x="629.7" y="52.4" font-size="10.9" style="fill:#ff1a1a;stroke:#ff1a1a;stroke-width:0.15px" text-anchor="middle">18&#8211;Nov</text>
<text x="706.2" y="41.1" font-size="10.9" style="fill:#ff1a1a;stroke:#ff1a1a;stroke-width:0.15px" text-anchor="middle">Tue</text>
<text x="706.2" y="52.4" font-size="10.9" style="fill:#ff1a1a;stroke:#ff1a1a;stroke-width:0.15px" text-anchor="middle">19&#8211;Nov</text>
<text x="116.56" y="395.73" font-size="9.5" text-anchor="middle">–0.05 m</text>
<text x="116.56" y="406.13" font-size="9.5" text-anchor="middle">–0.2 ft</text>
<text x="116.56" y="414.73" font-size="9.5" text-anchor="middle">7:15 pm</text>
<text x="137.98" y="172.21" font-size="9.5" text-anchor="middle">1:58 am</text>
<text x="137.98" y="180.61" font-size="9.5" text-anchor="middle">5.4 ft</text>
<text x="137.98" y="190.81" font-size="9.5" text-anchor="middle">1.65 m</text>
<text x="156.79" y="329.30" font-size="9.5" text-anchor="middle">0.54 m</text>
<text x="156.79" y="339.70" font-size="9.5" text-anchor="middle">1.8 ft</text>
<text x="156.79" y="348.30" font-size="9.5" text-anchor="middle">7:52 am</text>
<text x="174.27" y="200.36" font-size="9.5" text-anchor="middle">1:21 pm</text>
<text x="174.27" y="208.76" font-size="9.5" text-anchor="middle">4.6 ft</text>
<text x="174.27" y="218.96" font-size="9.5" text-anchor="middle">1.40 m</text>
<text x="194.51" y="404.74" font-size="9.5" text-anchor="middle">–0.13 m</text>
<text x="194.51" y="415.14" font-size="9.5" text-anchor="middle">–0.4 ft</text>
<text x="194.51" y="423.74" font-size="9.5" text-anchor="middle">7:42 pm</text>
<text x="216.67" y="136.18" font-size="9.5" text-anchor="middle">2:39 am</text>
<text x="216.67" y="144.58" font-size="9.5" text-anchor="middle">6.5 ft</text>
<text x="216.67" y="154.78" font-size="9.5" text-anchor="middle">1.97 m</text>
<text x="236.86" y="339.43" font-size="9.5" text-anchor="middle">0.45 m</text>
<text x="236.86" y="349.83" font-size="9.5" text-anchor="middle">1.5 ft</text>
<text x="236.86" y="358.43" font-size="9.5" text-anchor="middle">8:59 am</text>
<text x="253.18" y="224.01" font-size="9.5" text-anchor="middle">2:06 pm</text>
<text x="253.18" y="232.41" font-size="9.5" text-anchor="middle">3.9 ft</text>
<text x="253.18" y="242.61" font-size="9.5" text-anchor="middle">1.19 m</text>
<text x="272.57" y="412.62" font-size="9.5" text-anchor="middle">–0.20 m</text>
<text x="272.57" y="423.02" font-size="9.5" text-anchor="middle">–0.7 ft</text>
<text x="272.57" y="431.62" font-size="9.5" text-anchor="middle">8:11 pm</text>
<text x="295.42" y="104.65" font-size="9.5" text-anchor="middle">3:21 am</text>
<text x="295.42" y="113.05" font-size="9.5" text-anchor="middle">7.4 ft</text>
<text x="295.42" y="123.25" font-size="9.5" text-anchor="middle">2.25 m</text>
<text x="316.78" y="348.44" font-size="9.5" text-anchor="middle">0.37 m</text>
<text x="316.78" y="358.84" font-size="9.5" text-anchor="middle">1.2 ft</text>
<text x="316.78" y="367.44" font-size="9.5" text-anchor="middle">10:03 am</text>
<text x="332.03" y="247.65" font-size="9.5" text-anchor="middle">2:50 pm</text>
<text x="332.03" y="256.05" font-size="9.5" text-anchor="middle">3.2 ft</text>
<text x="332.03" y="266.25" font-size="9.5" text-anchor="middle">0.98 m</text>
<text x="350.68" y="417.12" font-size="9.5" text-anchor="middle">–0.24 m</text>
<text x="350.68" y="427.52" font-size="9.5" text-anchor="middle">–0.8 ft</text>
<text x="350.68" y="436.12" font-size="9.5" text-anchor="middle">8:41 pm</text>
<text x="374.22" y="83.26" font-size="9.5" text-anchor="middle">4:04 am</text>
<text x="374.22" y="91.66" font-size="9.5" text-anchor="middle">8.0 ft</text>
<text x="374.22" y="101.86" font-size="9.5" text-anchor="middle">2.44 m</text>
<text x="396.59" y="354.07" font-size="9.5" text-anchor="middle">0.32 m</text>
<text x="396.59" y="364.47" font-size="9.5" text-anchor="middle">1.0 ft</text>
<text x="396.59" y="373.07" font-size="9.5" text-anchor="middle">11:05 am</text>
<text x="410.89" y="270.17" font-size="9.5" text-anchor="middle">3:34 pm</text>
<text x="410.89" y="278.57" font-size="9.5" text-anchor="middle">2.6 ft</text>
<text x="410.89" y="288.77" font-size="9.5" text-anchor="middle">0.78 m</text>
<text x="428.95" y="416.00" font-size="9.5" text-anchor="middle">–0.23 m</text>
<text x="428.95" y="426.40" font-size="9.5" text-anchor="middle">–0.8 ft</text>
<text x="428.95" y="435.00" font-size="9.5" text-anchor="middle">9:14 pm</text>
<text x="453.08" y="73.12" font-size="9.5" text-anchor="middle">4:48 am</text>
<text x="453.08" y="81.52" font-size="9.5" text-anchor="middle">8.3 ft</text>
<text x="453.08" y="91.72" font-size="9.5" text-anchor="middle">2.53 m</text>
<text x="476.41" y="356.32" font-size="9.5" text-anchor="middle">0.30 m</text>
<text x="476.41" y="366.72" font-size="9.5" text-anchor="middle">1.0 ft</text>
<text x="476.41" y="375.32" font-size="9.5" text-anchor="middle">12:07 pm</text>
<text x="489.85" y="288.19" font-size="9.5" text-anchor="middle">4:20 pm</text>
<text x="489.85" y="296.59" font-size="9.5" text-anchor="middle">2.0 ft</text>
<text x="489.85" y="306.79" font-size="9.5" text-anchor="middle">0.62 m</text>
<text x="507.28" y="409.24" font-size="9.5" text-anchor="middle">–0.17 m</text>
<text x="507.28" y="419.64" font-size="9.5" text-anchor="middle">–0.6 ft</text>
<text x="507.28" y="428.24" font-size="9.5" text-anchor="middle">9:48 pm</text>
<text x="531.99" y="74.25" font-size="9.5" text-anchor="middle">5:33 am</text>
<text x="531.99" y="82.65" font-size="9.5" text-anchor="middle">8.3 ft</text>
<text x="531.99" y="92.85" font-size="9.5" text-anchor="middle">2.52 m</text>
<text x="556.32" y="357.45" font-size="9.5" text-anchor="middle">0.29 m</text>
<text x="556.32" y="367.85" font-size="9.5" text-anchor="middle">1.0 ft</text>
<text x="556.32" y="376.45" font-size="9.5" text-anchor="middle">1:11 pm</text>
<text x="569.02" y="301.70" font-size="9.5" text-anchor="middle">5:10 pm</text>
<text x="569.02" y="310.10" font-size="9.5" text-anchor="middle">1.6 ft</text>
<text x="569.02" y="320.30" font-size="9.5" text-anchor="middle">0.50 m</text>
<text x="585.71" y="397.98" font-size="9.5" text-anchor="middle">–0.07 m</text>
<text x="585.71" y="408.38" font-size="9.5" text-anchor="middle">–0.2 ft</text>
<text x="585.71" y="416.98" font-size="9.5" text-anchor="middle">10:24 pm</text>
<text x="611.05" y="83.26" font-size="9.5" text-anchor="middle">6:21 am</text>
<text x="611.05" y="91.66" font-size="9.5" text-anchor="middle">8.0 ft</text>
<text x="611.05" y="101.86" font-size="9.5" text-anchor="middle">2.44 m</text>
<text x="636.40" y="357.45" font-size="9.5" text-anchor="middle">0.29 m</text>
<text x="636.40" y="367.85" font-size="9.5" text-anchor="middle">1.0 ft</text>
<text x="636.40" y="376.45" font-size="9.5" text-anchor="middle">2:18 pm</text>
<text x="648.73" y="310.71" font-size="9.5" text-anchor="middle">6:10 pm</text>
<text x="648.73" y="319.11" font-size="9.5" text-anchor="middle">1.4 ft</text>
<text x="648.73" y="329.31" font-size="9.5" text-anchor="middle">0.42 m</text>
<text x="664.19" y="382.22" font-size="9.5" text-anchor="middle">0.07 m</text>
<text x="664.19" y="392.62" font-size="9.5" text-anchor="middle">0.2 ft</text>
<text x="664.19" y="401.22" font-size="9.5" text-anchor="middle">11:01 pm</text>
<text x="690.23" y="99.02" font-size="9.5" text-anchor="middle">7:11 am</text>
<text x="690.23" y="107.42" font-size="9.5" text-anchor="middle">7.5 ft</text>
<text x="690.23" y="117.62" font-size="9.5" text-anchor="middle">2.30 m</text>
<text x="159.87" y="480.0" font-size="9.5">6:42am</text>
<text x="236.38" y="480.0" font-size="9.5">6:42am</text>
<text x="312.95" y="480.0" font-size="9.5">6:43am</text>
<text x="389.52" y="480.0" font-size="9.5">6:44am</text>
<text x="466.04" y="480.0" font-size="9.5">6:44am</text>
<text x="542.61" y="480.0" font-size="9.5">6:45am</text>
<text x="619.18" y="480.0" font-size="9.5">6:46am</text>
<text x="695.70" y="480.0" font-size="9.5">6:46am</text>
<text x="118.90" y="493.9" font-size="9.5">5:51pm</text>
<text x="195.42" y="493.9" font-size="9.5">5:51pm</text>
<text x="271.93" y="493.9" font-size="9.5">5:51pm</text>
<text x="348.40" y="493.9" font-size="9.5">5:50pm</text>
<text x="424.91" y="493.9" font-size="9.5">5:50pm</text>
<text x="501.43" y="493.9" font-size="9.5">5:50pm</text>
<text x="577.95" y="493.9" font-size="9.5">5:50pm</text>
<text x="654.41" y="493.9" font-size="9.5">5:49pm</text>
<text x="109.86" y="507.4" font-size="9.5">2:59pm</text>
<text x="188.40" y="507.4" font-size="9.5">3:37pm</text>
<text x="267.04" y="507.4" font-size="9.5">4:17pm</text>
<text x="345.84" y="507.4" font-size="9.5">5:00pm</text>
<text x="424.96" y="507.4" font-size="9.5">5:49pm</text>
<text x="504.40" y="507.4" font-size="9.5">6:44pm</text>
<text x="584.10" y="507.4" font-size="9.5">7:44pm</text>
<text x="663.97" y="507.4" font-size="9.5">8:47pm</text>
<text x="149.29" y="520.9" font-size="9.5">3:21am</text>
<text x="229.10" y="520.9" font-size="9.5">4:23am</text>
<text x="309.07" y="520.9" font-size="9.5">5:28am</text>
<text x="389.20" y="520.9" font-size="9.5">6:36am</text>
<text x="469.38" y="520.9" font-size="9.5">7:45am</text>
<text x="549.51" y="520.9" font-size="9.5">8:53am</text>
<text x="629.43" y="520.9" font-size="9.5">9:57am</text>
<text x="708.87" y="520.9" font-size="9.5">10:52am</text>
<text x="46.0" y="479.7" font-size="11.1" text-anchor="end">Sunrise</text>
<text x="746.2" y="479.7" font-size="11.1">Sunrise</text>
<text x="46.0" y="493.6" font-size="11.1" text-anchor="end">Sunset</text>
<text x="746.2" y="493.6" font-size="11.1">Sunset</text>
<text x="46.0" y="507.1" font-size="11.1" text-anchor="end">Moonrise</text>
<text x="746.2" y="507.1" font-size="11.1">Moonrise</text>
<text x="46.0" y="520.6" font-size="11.1" text-anchor="end">Moonset</text>
<text x="746.2" y="520.6" font-size="11.1">Moonset</text>
<text x="395.5" y="533" font-size="9.45" text-anchor="middle">Full Moon | 11:29am</text>
<text x="199.05" y="14.1" font-size="16.7" style="white-space:pre;stroke-width:0.1px">Makaha (Outside): at low  ordinary tide at 0.1m (0.3ft)</text>
<text x="202.6" y="28.5" font-size="11.0" font-weight="bold" style="stroke-width:0">Image captured 5 minutes before low water. Times are HST (UTC &#8211;10.0hrs)</text>
</svg>
</body></html>
